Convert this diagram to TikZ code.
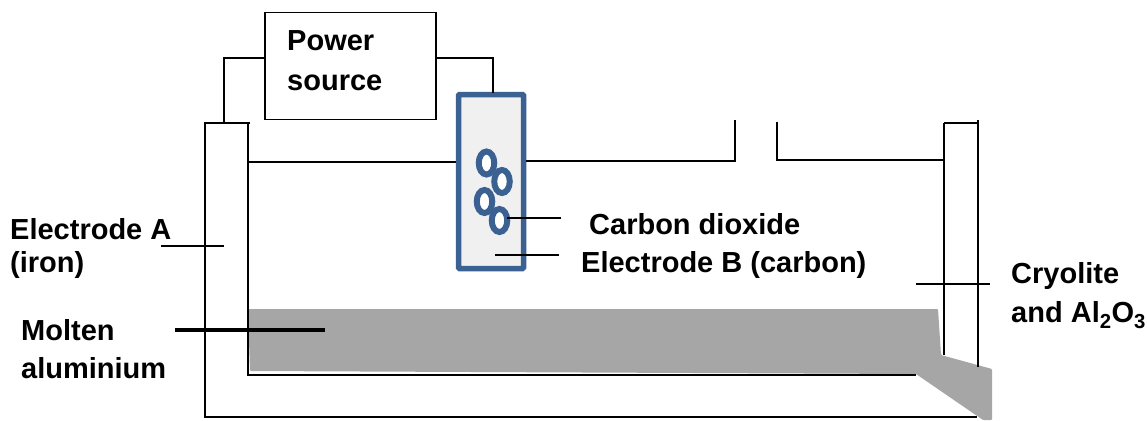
\documentclass[tikz,border=0pt]{standalone}
\usepackage{fontspec}
\setmainfont{Liberation Sans}
\definecolor{electrodeblue}{HTML}{3A6192}
\definecolor{moltengrey}{HTML}{A6A6A6}
\usetikzlibrary{shapes.geometric}
\tikzset{
  wall/.style={line width=2pt, black},
  wire/.style={line width=2pt, black},
  label/.style={anchor=base west, inner sep=0pt, font=\bfseries\fontsize{29}{29}\selectfont},
  bubble/.style={draw=electrodeblue, line width=6pt, fill=white, ellipse, minimum width=15.5pt, minimum height=23pt, inner sep=0pt},
}
\begin{document}
\begin{tikzpicture}[x=1pt, y=-1pt]
  \useasboundingbox (0,0) rectangle (1147,420);
  % Molten aluminium with tap
  \fill[moltengrey, rounded corners=1pt] (248,309) -- (938,309) -- (941,355) -- (992,369) -- (992,420) -- (983,420) -- (916,374) -- (250,371) -- cycle;
  % Power source
  \node[draw, line width=1.4pt, minimum width=171pt, minimum height=107pt, inner sep=0pt] (power) at (350.5,66) {};
  \node[label] (powerA) at (287,50) {Power};
  \node[label] (powerB) at (287,90) {source};
  % Electrode B
  \node[draw=electrodeblue, line width=5.5pt, fill=black!6, rounded corners=1pt, minimum width=65pt, minimum height=174pt, inner sep=0pt] (carbon) at (491,181.5) {};
  \node[bubble] (bubbleA) at (486.5,163) {};
  \node[bubble] (bubbleB) at (502,181.5) {};
  \node[bubble] (bubbleC) at (484.5,201.5) {};
  \node[bubble] (bubbleD) at (499.5,220.5) {};
  % Cell walls
  \coordinate (topA) at (205,123);
  \coordinate (topB) at (250,123);
  \coordinate (wallA) at (248,123);
  \coordinate (cornerA) at (205,417);
  \coordinate (cornerB) at (977,417);
  \coordinate (cornerC) at (248,375);
  \coordinate (cornerD) at (916,375);
  \draw[wall] (topB) -- (topA) -- (cornerA) -- (cornerB);
  \draw[wall] (wallA) -- (cornerC) -- (cornerD);
  \draw[wall] (944,123) -- (944,355);
  \draw[wall] (978,120) -- (978,367);
  \draw[wall] (944,123) -- (978,123);
  % Electrolyte surface
  \coordinate (gapA) at (735,161);
  \coordinate (gapB) at (777,160);
  \draw[wire] (248,162) -- (carbon.west |- 0,162);
  \draw[wire] (carbon.east |- 0,161) -- (gapA) -- (735,120);
  \draw[wire] (777,122) -- (gapB) -- (944,160);
  % Wires to the source
  \draw[wire] (power.west |- 0,58) -| (224,123);
  \draw[wire] (power.east |- 0,58) -| (493,93);
  % Labels
  \node[label] (electrodeA) at (10,239) {Electrode A};
  \node[label] (iron) at (10,272.5) {(iron)};
  \node[label] (moltenA) at (21,340) {Molten};
  \node[label] (moltenB) at (21,378) {aluminium};
  \node[label] (dioxide) at (589,234) {Carbon dioxide};
  \node[label] (electrodeB) at (581,272) {Electrode B (carbon)};
  \node[label] (cryoA) at (1011,283) {Cryolite};
  \node[label] (cryoB) at (1011,322.5) {and Al\textsubscript{2}O\textsubscript{3}};
  % Pointer lines
  \draw[wire] (161,246) -- (224,246);
  \draw[line width=3.5pt] (175,330) -- (325,330);
  \draw[wire] (507,218) -- (561,218);
  \draw[wire] (495,255) -- (559,255);
  \draw[wire] (916,284) -- (990,284);
\end{tikzpicture}
\end{document}
